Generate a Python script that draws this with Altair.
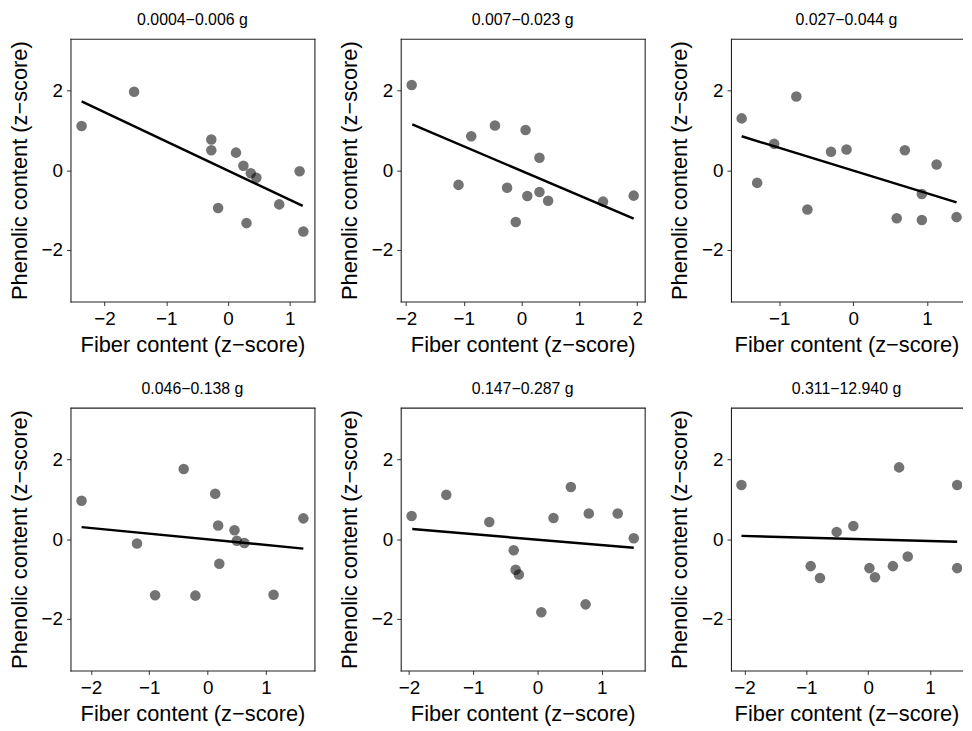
import altair as alt
import pandas as pd

FONT = "Liberation Sans"

titles = ["0.0004−0.006 g", "0.007−0.023 g", "0.027−0.044 g",
          "0.046−0.138 g", "0.147−0.287 g", "0.311−12.940 g"]

# panel 1
fiber_1 = [-2.37, -1.52, -0.27, -0.27, 0.13, 0.25, 0.37, 0.46, 1.16, 0.83, -0.16, 0.30, 1.22]
phenol_1 = [1.11, 1.97, 0.77, 0.50, 0.44, 0.11, -0.08, -0.19, -0.03, -0.86, -0.95, -1.33, -1.54]
# panel 2
fiber_2 = [-1.90, -0.87, -0.46, 0.07, 0.31, -1.09, -0.25, 0.10, 0.31, 0.46, -0.10, 1.41, 1.94]
phenol_2 = [2.14, 0.85, 1.12, 1.01, 0.31, -0.37, -0.44, -0.65, -0.55, -0.77, -1.30, -0.79, -0.64]
# panel 3
fiber_3 = [-1.51, -0.77, -1.07, -1.30, -0.30, -0.09, -0.62, 0.70, 1.13, 0.93, 0.59, 0.93, 1.40]
phenol_3 = [1.30, 1.85, 0.66, -0.32, 0.46, 0.52, -0.99, 0.50, 0.14, -0.60, -1.21, -1.25, -1.18]
# panel 4
fiber_4 = [-2.16, -0.41, 0.13, 0.18, 0.46, 0.50, 0.63, 1.64, -1.21, 0.20, -0.90, -0.21, 1.13]
phenol_4 = [0.96, 1.76, 1.14, 0.34, 0.22, -0.04, -0.10, 0.52, -0.11, -0.62, -1.41, -1.42, -1.40]
# panel 5
fiber_5 = [-1.96, -1.42, -0.75, -0.37, -0.34, -0.29, 0.06, 0.25, 0.52, 0.80, 0.75, 1.25, 1.50]
phenol_5 = [0.58, 1.11, 0.43, -0.28, -0.77, -0.89, -1.84, 0.53, 1.31, 0.64, -1.64, 0.64, 0.02]
# panel 6
fiber_6 = [-2.05, 0.50, 1.44, -0.51, -0.24, -0.93, -0.78, 0.02, 0.11, 0.40, 0.64, 1.44]
phenol_6 = [1.36, 1.80, 1.36, 0.18, 0.33, -0.68, -0.98, -0.73, -0.96, -0.68, -0.44, -0.73]

fibers = [fiber_1, fiber_2, fiber_3, fiber_4, fiber_5, fiber_6]
phenols = [phenol_1, phenol_2, phenol_3, phenol_4, phenol_5, phenol_6]

# fitted line end points
line_x0 = [-2.37, -1.89, -1.51, -2.16, -1.95, -2.05]
line_x1 = [1.21, 1.94, 1.40, 1.64, 1.50, 1.44]
line_y0 = [1.73, 1.15, 0.85, 0.30, 0.25, 0.08]
line_y1 = [-0.90, -1.22, -0.81, -0.24, -0.22, -0.07]

# visible x range of each panel (right column is cut at the edge)
x_min = [-2.55, -2.09, -1.655, -2.35, -2.13, -2.22]
x_max = [1.40, 2.13, 1.474, 1.83, 1.67, 1.518]
panel_w = [246, 246, 233, 246, 246, 233]
cut_right = [False, False, True, False, False, True]
PANEL_H = 265
FRAME = "#222222"

y_domain = [-3.3, 3.3]
x_tick_candidates = [-2, -1, 0, 1, 2]
y_ticks = [-2, 0, 2]


def frame_rule(df, **enc):
    return alt.Chart(df).mark_rule(color=FRAME, strokeWidth=1.1).encode(**enc)


def panel(i):
    xs, ys = fibers[i], phenols[i]
    xdom = [x_min[i], x_max[i]]
    xticks = [v for v in x_tick_candidates if xdom[0] <= v <= xdom[1]]
    pts = pd.DataFrame({"x": xs, "y": ys})
    ln = pd.DataFrame({"x": [line_x0[i], line_x1[i]], "y": [line_y0[i], line_y1[i]]})
    xsc = alt.Scale(domain=xdom, nice=False, zero=False)
    ysc = alt.Scale(domain=y_domain, nice=False, zero=False)
    xax = alt.Axis(title="Fiber content (z−score)", values=xticks, format="d")
    yax = alt.Axis(title="Phenolic content (z−score)", values=y_ticks, format="d")
    points = alt.Chart(pts).mark_circle(size=113, color="black", opacity=0.55, clip=True).encode(
        x=alt.X("x:Q", scale=xsc, axis=xax),
        y=alt.Y("y:Q", scale=ysc, axis=yax),
    )
    line = alt.Chart(ln).mark_line(color="black", strokeWidth=2.5, clip=True).encode(
        x=alt.X("x:Q", scale=xsc, axis=xax),
        y=alt.Y("y:Q", scale=ysc, axis=yax),
    )
    w = panel_w[i]
    one = pts.head(1)
    layers = [
        points, line,
        frame_rule(one, x=alt.value(0), x2=alt.value(w + 1), y=alt.value(0.5)),
        frame_rule(one, x=alt.value(0), x2=alt.value(w + 1), y=alt.value(PANEL_H + 0.5)),
        frame_rule(one, x=alt.value(0.5), y=alt.value(0), y2=alt.value(PANEL_H + 1)),
    ]
    if not cut_right[i]:
        layers.append(frame_rule(one, x=alt.value(w + 0.5), y=alt.value(0), y2=alt.value(PANEL_H + 1)))
    return alt.layer(*layers).properties(
        width=w, height=PANEL_H,
        title=alt.TitleParams(titles[i], frame="group", anchor="middle"),
    )


row1 = alt.hconcat(panel(0), panel(1), panel(2), spacing=22)
row2 = alt.hconcat(panel(3), panel(4), panel(5), spacing=22)

chart = alt.vconcat(row1, row2, spacing=26).properties(
    padding={"left": 0, "top": 1, "right": 0, "bottom": 0}
).configure_view(
    strokeOpacity=0
).configure_axis(
    domain=False, grid=False, tickColor="#333333", tickSize=4, tickWidth=1,
    labelFont=FONT, labelFontSize=19, labelColor="black", labelPadding=4,
    titleFont=FONT, titleFontSize=22, titleFontWeight="normal", titleColor="black",
).configure_axisX(
    titlePadding=6
).configure_axisY(
    titlePadding=10
).configure_title(
    font=FONT, fontSize=16, fontWeight="normal", color="black", offset=10,
)

chart.save("out.html", embed_options={"renderer": "svg", "actions": False})
